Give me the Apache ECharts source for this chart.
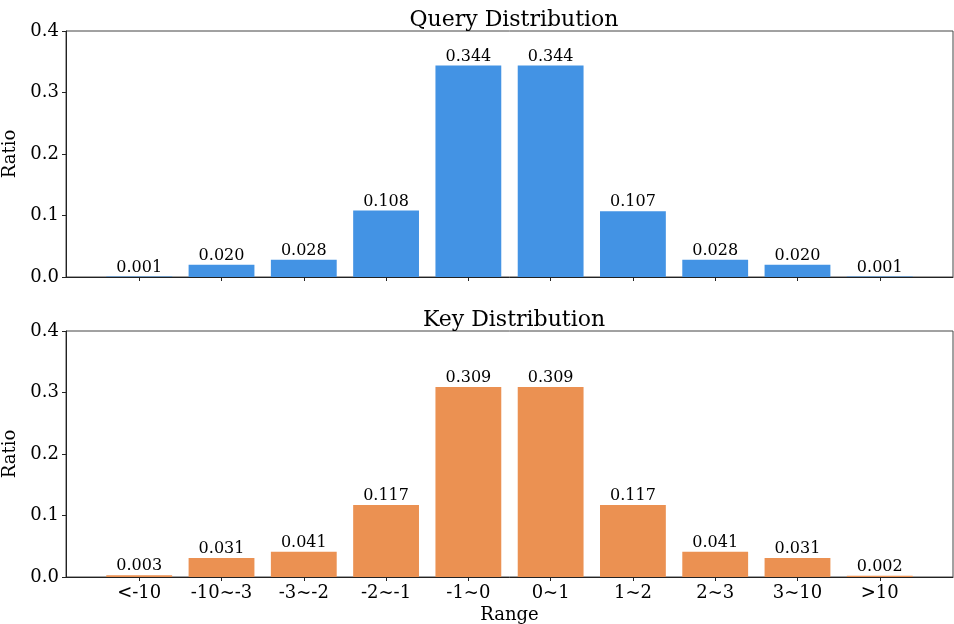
<!DOCTYPE html>
<html>
<head>
<meta charset="utf-8">
<script src="https://cdn.jsdelivr.net/npm/echarts@6/dist/echarts.min.js"></script>
<style>
  html, body { margin: 0; padding: 0; background: #fff; }
  #chart { width: 954px; height: 624px; }
</style>
</head>
<body>
<div id="chart"></div>
<script>
// Value ranges used as bins
const categories = ['<-10', '-10~-3', '-3~-2', '-2~-1', '-1~0', '0~1', '1~2', '2~3', '3~10', '>10'];
// Share of query activations per bin
const queryRatio = [0.001, 0.020, 0.028, 0.108, 0.344, 0.344, 0.107, 0.028, 0.020, 0.001];
// Share of key activations per bin
const keyRatio = [0.003, 0.031, 0.041, 0.117, 0.309, 0.309, 0.117, 0.041, 0.031, 0.002];
const yTicks = [0, 0.1, 0.2, 0.3, 0.4];

const FONT = 'DejaVu Serif';
const BAR_FRACTION = 0.8;
const positions = categories.map((_, i) => i);
// matplotlib-like padding around the bars
const pad = 0.05 * (categories.length - 1 + BAR_FRACTION);
const xMin = -BAR_FRACTION / 2 - pad;
const xMax = categories.length - 1 + BAR_FRACTION / 2 + pad;

const chart = echarts.init(document.getElementById('chart'), null, { renderer: 'canvas' });

function xAxisFor(gridIndex, showLabels) {
  return {
    type: 'value', gridIndex, min: xMin, max: xMax,
    splitLine: { show: false },
    axisLine: { show: true, onZero: false, lineStyle: { color: '#222', width: 1 } },
    axisTick: { show: true, customValues: positions, length: 4, lineStyle: { color: '#222' } },
    axisLabel: {
      show: showLabels, customValues: positions,
      formatter: v => categories[Math.round(v)],
      color: '#000', fontFamily: FONT, fontSize: 18, margin: 7
    },
    name: showLabels ? 'Range' : '',
    nameLocation: 'middle', nameGap: 29,
    nameTextStyle: { color: '#000', fontFamily: FONT, fontSize: 18 }
  };
}

function yAxisFor(gridIndex) {
  return {
    type: 'value', gridIndex, min: yTicks[0], max: yTicks[yTicks.length - 1], interval: 0.1,
    splitLine: { show: false },
    axisLine: { show: true, onZero: false, lineStyle: { color: '#222', width: 1 } },
    axisTick: { show: true, length: 4, lineStyle: { color: '#222' } },
    axisLabel: {
      formatter: v => v.toFixed(1), color: '#000', fontFamily: FONT, fontSize: 18, margin: 7
    },
    name: 'Ratio', nameLocation: 'middle', nameGap: 43, nameRotate: 90,
    nameTextStyle: { color: '#000', fontFamily: FONT, fontSize: 18 }
  };
}

function barSeries(idx, values, color, barWidth) {
  return {
    type: 'bar', xAxisIndex: idx, yAxisIndex: idx,
    data: values.map((v, i) => [positions[i], v]),
    barWidth: barWidth,
    itemStyle: { color },
    label: {
      show: true, position: 'top', distance: 1,
      formatter: p => p.value[1].toFixed(3),
      color: '#000', fontFamily: FONT, fontSize: 16
    }
  };
}

function buildOption(barWidth) {
  return {
    animation: false,
    backgroundColor: '#fff',
    title: [
      { text: 'Query Distribution', left: 509, top: 4, textAlign: 'center',
        textStyle: { fontFamily: FONT, fontSize: 22, fontWeight: 'normal', color: '#000' } },
      { text: 'Key Distribution', left: 509, top: 304, textAlign: 'center',
        textStyle: { fontFamily: FONT, fontSize: 22, fontWeight: 'normal', color: '#000' } }
    ],
    grid: [
      { left: 66, right: 1, top: 31, height: 246, show: true, borderColor: '#444', borderWidth: 1,
        containLabel: false, outerBoundsMode: 'none' },
      { left: 66, right: 1, top: 331, height: 246, show: true, borderColor: '#444', borderWidth: 1,
        containLabel: false, outerBoundsMode: 'none' }
    ],
    xAxis: [xAxisFor(0, false), xAxisFor(1, true)],
    yAxis: [yAxisFor(0), yAxisFor(1)],
    series: [
      barSeries(0, queryRatio, '#4393E4', barWidth),
      barSeries(1, keyRatio, '#EB9152', barWidth)
    ]
  };
}

chart.setOption(buildOption(60));
// Bar width = 0.8 of one category step, measured on the x scale
const unitPx = chart.convertToPixel({ xAxisIndex: 0 }, 1) - chart.convertToPixel({ xAxisIndex: 0 }, 0);
chart.setOption(buildOption(unitPx * BAR_FRACTION));
</script>
</body>
</html>
